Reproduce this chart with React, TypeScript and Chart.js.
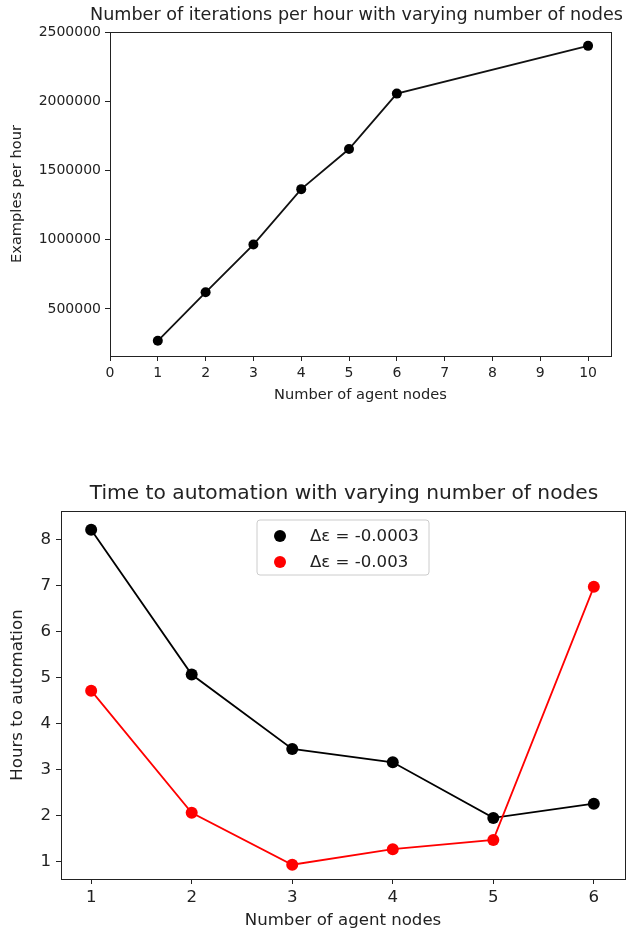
import React, { useEffect, useRef } from "react";
import { Chart, registerables } from "chart.js";
Chart.register(...registerables);

// ---------- data: top chart ----------
const TOP_TITLE = "Number of iterations per hour with varying number of nodes";
const TOP_X_LABEL = "Number of agent nodes";
const TOP_Y_LABEL = "Examples per hour";
const topNodes = [1, 2, 3, 4, 5, 6, 10];
const topExamples = [270000, 620000, 965000, 1365000, 1655000, 2055000, 2400000];
const topXTicks = [0, 1, 2, 3, 4, 5, 6, 7, 8, 9, 10];
const topYTicks = [500000, 1000000, 1500000, 2000000, 2500000];

// ---------- data: bottom chart ----------
const BOTTOM_TITLE = "Time to automation with varying number of nodes";
const BOTTOM_X_LABEL = "Number of agent nodes";
const BOTTOM_Y_LABEL = "Hours to automation";
const bottomNodes = [1, 2, 3, 4, 5, 6];
const seriesLabels = ["Δε = -0.0003", "Δε = -0.003"];
const seriesColors = ["#000000", "#ff0000"];
const hoursSmallStep = [8.22, 5.07, 3.45, 3.16, 1.95, 2.26];
const hoursLargeStep = [4.72, 2.06, 0.93, 1.27, 1.47, 6.98];
const bottomXTicks = [1, 2, 3, 4, 5, 6];
const bottomYTicks = [1, 2, 3, 4, 5, 6, 7, 8];

const FONT = "'DejaVu Sans', sans-serif";
const INK = "#222222";

const framePlugin = {
  id: "frame",
  afterDatasetsDraw(chart: any) {
    const { ctx, chartArea } = chart;
    ctx.save();
    ctx.strokeStyle = INK;
    ctx.lineWidth = 1;
    ctx.strokeRect(
      Math.round(chartArea.left) + 0.5,
      Math.round(chartArea.top) + 0.5,
      Math.round(chartArea.right - chartArea.left),
      Math.round(chartArea.bottom - chartArea.top)
    );
    ctx.restore();
  },
};

const titlePlugin = {
  id: "plotTitle",
  afterDraw(chart: any, _args: any, opts: any) {
    if (!opts || !opts.text) return;
    const { ctx, chartArea } = chart;
    ctx.save();
    ctx.fillStyle = INK;
    ctx.font = `${opts.size}px ${FONT}`;
    ctx.textAlign = "center";
    ctx.textBaseline = "middle";
    ctx.fillText(opts.text, (chartArea.left + chartArea.right) / 2 + (opts.dx || 0), opts.y);
    ctx.restore();
  },
};

const boxLegendPlugin = {
  id: "boxLegend",
  afterDraw(chart: any, _args: any, opts: any) {
    if (!opts || !opts.display) return;
    const { ctx, chartArea } = chart;
    const w = opts.width;
    const h = opts.height;
    const x0 = (chartArea.left + chartArea.right) / 2 - w / 2;
    const y0 = chartArea.top + opts.top;
    ctx.save();
    ctx.fillStyle = "rgba(255,255,255,0.85)";
    ctx.strokeStyle = "#cccccc";
    ctx.lineWidth = 1;
    ctx.beginPath();
    const r = 3;
    ctx.moveTo(x0 + r, y0);
    ctx.lineTo(x0 + w - r, y0);
    ctx.quadraticCurveTo(x0 + w, y0, x0 + w, y0 + r);
    ctx.lineTo(x0 + w, y0 + h - r);
    ctx.quadraticCurveTo(x0 + w, y0 + h, x0 + w - r, y0 + h);
    ctx.lineTo(x0 + r, y0 + h);
    ctx.quadraticCurveTo(x0, y0 + h, x0, y0 + h - r);
    ctx.lineTo(x0, y0 + r);
    ctx.quadraticCurveTo(x0, y0, x0 + r, y0);
    ctx.closePath();
    ctx.fill();
    ctx.stroke();
    ctx.font = `${opts.size}px ${FONT}`;
    ctx.textBaseline = "middle";
    ctx.textAlign = "left";
    const items = chart.data.datasets;
    items.forEach((ds: any, i: number) => {
      const cy = y0 + opts.firstRow + i * opts.rowGap;
      ctx.fillStyle = ds.pointBackgroundColor;
      ctx.beginPath();
      ctx.arc(x0 + opts.markerX, cy, 6, 0, Math.PI * 2);
      ctx.fill();
      ctx.fillStyle = INK;
      ctx.fillText(ds.label, x0 + opts.textX, cy + 1);
    });
    ctx.restore();
  },
};

function makeAxis(o: any) {
  return {
    type: "linear",
    min: o.min,
    max: o.max,
    afterBuildTicks: (scale: any) => {
      scale.ticks = o.ticks.map((v: number) => ({ value: v }));
    },
    afterFit: (scale: any) => {
      if (o.width !== undefined) scale.width = o.width;
      if (o.height !== undefined) scale.height = o.height;
    },
    border: { display: false },
    grid: {
      display: true,
      drawOnChartArea: false,
      drawTicks: true,
      tickLength: 5,
      color: INK,
      lineWidth: 1,
    },
    ticks: {
      color: INK,
      font: { family: FONT, size: o.tickSize },
      padding: o.tickPad,
      maxRotation: 0,
      autoSkip: false,
      callback: (v: any) => String(v),
    },
    title: {
      display: true,
      text: o.title,
      color: INK,
      font: { family: FONT, size: o.titleSize },
      padding: o.titlePad,
    },
  };
}

function ChartCanvas({ config, width, height, top }: any) {
  const ref = useRef<HTMLCanvasElement | null>(null);
  useEffect(() => {
    if (!ref.current) return;
    const chart = new Chart(ref.current, config);
    return () => chart.destroy();
  }, []);
  return (
    <canvas
      ref={ref}
      width={width}
      height={height}
      style={{ position: "absolute", left: 0, top, width, height }}
    />
  );
}

const topConfig: any = {
  type: "scatter",
  data: {
    datasets: [
      {
        label: "examples",
        data: topNodes.map((x, i) => ({ x, y: topExamples[i] })),
        showLine: true,
        borderColor: "#111111",
        borderWidth: 1.8,
        pointRadius: 5,
        pointBackgroundColor: "#000000",
        pointBorderWidth: 0,
      },
    ],
  },
  options: {
    responsive: false,
    animation: false,
    events: [],
    layout: { padding: { left: 0, right: 24, top: 32, bottom: 0 } },
    plugins: {
      legend: { display: false },
      tooltip: { enabled: false },
      plotTitle: { text: TOP_TITLE, size: 17.6, y: 15, dx: -4 },
      boxLegend: { display: false },
    },
    scales: {
      x: makeAxis({
        min: 0, max: 10.48, ticks: topXTicks, height: 64,
        tickSize: 14, tickPad: 4, title: TOP_X_LABEL, titleSize: 14.6,
        titlePad: { top: 0, bottom: 16 },
      }),
      y: makeAxis({
        min: 160000, max: 2500000, ticks: topYTicks, width: 110,
        tickSize: 14, tickPad: 4, title: TOP_Y_LABEL, titleSize: 14.6,
        titlePad: { top: 8, bottom: 0 },
      }),
    },
  },
  plugins: [framePlugin, titlePlugin, boxLegendPlugin],
};

const bottomConfig: any = {
  type: "scatter",
  data: {
    datasets: [
      {
        label: seriesLabels[0],
        data: bottomNodes.map((x, i) => ({ x, y: hoursSmallStep[i] })),
        showLine: true,
        borderColor: seriesColors[0],
        borderWidth: 1.8,
        pointRadius: 6,
        pointBackgroundColor: seriesColors[0],
        pointBorderWidth: 0,
        order: 1,
      },
      {
        label: seriesLabels[1],
        data: bottomNodes.map((x, i) => ({ x, y: hoursLargeStep[i] })),
        showLine: true,
        borderColor: seriesColors[1],
        borderWidth: 1.8,
        pointRadius: 6,
        pointBackgroundColor: seriesColors[1],
        pointBorderWidth: 0,
        order: 0,
      },
    ],
  },
  options: {
    responsive: false,
    animation: false,
    events: [],
    layout: { padding: { left: 0, right: 10, top: 71, bottom: 0 } },
    plugins: {
      legend: { display: false },
      tooltip: { enabled: false },
      plotTitle: { text: BOTTOM_TITLE, size: 20.2, y: 54, dx: 1 },
      boxLegend: {
        display: true, width: 172, height: 55, top: 9,
        firstRow: 16, rowGap: 26, markerX: 23, textX: 53, size: 16.6,
      },
    },
    scales: {
      x: makeAxis({
        min: 0.7, max: 6.31, ticks: bottomXTicks, height: 55,
        tickSize: 16.6, tickPad: 4, title: BOTTOM_X_LABEL, titleSize: 16.6,
        titlePad: { top: 0, bottom: 3 },
      }),
      y: makeAxis({
        min: 0.62, max: 8.63, ticks: bottomYTicks, width: 61,
        tickSize: 16.6, tickPad: 5, title: BOTTOM_Y_LABEL, titleSize: 16.6,
        titlePad: { top: 8, bottom: 0 },
      }),
    },
  },
  plugins: [framePlugin, titlePlugin, boxLegendPlugin],
};

export default function App() {
  return (
    <div
      style={{
        position: "absolute",
        left: 0,
        top: 0,
        width: 635,
        height: 934,
        background: "#ffffff",
        overflow: "hidden",
      }}
    >
      <ChartCanvas config={topConfig} width={635} height={420} top={0} />
      <ChartCanvas config={bottomConfig} width={635} height={494} top={440} />
    </div>
  );
}
